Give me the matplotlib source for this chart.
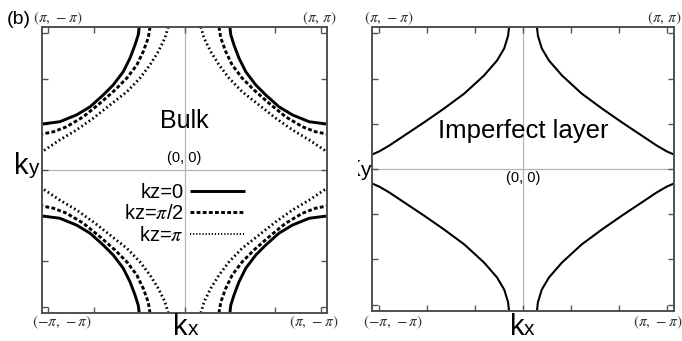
import numpy as np
import matplotlib
matplotlib.use("Agg")
import matplotlib.pyplot as plt
from matplotlib.patches import Rectangle

plt.rcParams['font.family'] = ['Liberation Sans', 'DejaVu Sans']
plt.rcParams['mathtext.fontset'] = 'stix'

PI = np.pi

# Bulk Fermi contours, upper-left quadrant (kx < 0, ky > 0); the other
# quadrants follow from the mirror symmetry of the zone.
bulk_kz0_kx = [-1.00, -1.02, -1.09, -1.20, -1.35, -1.57, -1.79, -2.08, -2.38, -2.75, -PI]
bulk_kz0_ky = [PI, 2.97, 2.75, 2.46, 2.16, 1.87, 1.65, 1.39, 1.21, 1.06, 1.01]

bulk_kzhalf_kx = [-0.76, -0.80, -0.91, -1.05, -1.27, -1.53, -1.86, -2.23, -2.60, -2.89, -PI]
bulk_kzhalf_ky = [PI, 2.90, 2.60, 2.31, 2.02, 1.76, 1.47, 1.17, 0.95, 0.84, 0.79]

bulk_kzpi_kx = [-0.36, -0.43, -0.58, -0.76, -0.98, -1.27, -1.64, -2.01, -2.38, -2.75, -PI]
bulk_kzpi_ky = [PI, 2.90, 2.60, 2.31, 2.02, 1.72, 1.43, 1.14, 0.88, 0.66, 0.40]

# Imperfect-layer contour, upper-left quadrant
layer_kx = [-0.29, -0.31, -0.39, -0.54, -0.81, -1.22, -1.64, -2.06, -2.47, -2.78, -2.99, -PI]
layer_ky = [PI, 2.95, 2.67, 2.40, 2.07, 1.67, 1.34, 1.03, 0.74, 0.52, 0.39, 0.32]

ticks = [-3, -2, -1, 0, 1, 2, 3]
quadrants = [(1, 1), (-1, 1), (1, -1), (-1, -1)]

W, H = 682, 341
fig = plt.figure(figsize=(W / 100, H / 100), dpi=100)


def px_axes(x0, y0, x1, y1):
    return fig.add_axes([x0 / W, 1 - y1 / H, (x1 - x0) / W, (y1 - y0) / H])


def style_axes(ax):
    ax.set_xlim(-PI, PI)
    ax.set_ylim(-PI, PI)
    ax.set_xticks(ticks)
    ax.set_yticks(ticks)
    ax.set_xticklabels([])
    ax.set_yticklabels([])
    ax.tick_params(direction='in', length=4, width=1.0, color='#555555',
                   top=True, right=True)
    for s in ax.spines.values():
        s.set_color('#505050')
        s.set_linewidth(1.4)
    ax.axhline(0, color='#b5b5b5', lw=0.9, zorder=0)
    ax.axvline(0, color='#b5b5b5', lw=0.9, zorder=0)


def draw_sym(ax, kx, ky, label=None, **kw):
    kx = np.asarray(kx)
    ky = np.asarray(ky)
    for i, (sx, sy) in enumerate(quadrants):
        ax.plot(-sx * kx, sy * ky, label=label if i == 0 else None, **kw)


def ftext(x, y, s, **kw):
    return fig.text(x / W, 1 - y / H, s, **kw)


# ---------------- Bulk panel ----------------
ax1 = px_axes(42, 27, 327, 313)
style_axes(ax1)
draw_sym(ax1, bulk_kz0_kx, bulk_kz0_ky, label='kz=0',
         color='black', lw=2.1, solid_capstyle='butt')
draw_sym(ax1, bulk_kzhalf_kx, bulk_kzhalf_ky, label=r'kz=$\pi$/2',
         color='black', lw=2.1, linestyle=(0, (1.3, 0.8)))
draw_sym(ax1, bulk_kzpi_kx, bulk_kzpi_ky, label=r'kz=$\pi$',
         color='black', lw=2.0, linestyle=(0, (0.6, 1.0)))

leg = ax1.legend(loc='upper right', bbox_to_anchor=(245 / W, 1 - 183 / H),
                 bbox_transform=fig.transFigure, frameon=False,
                 markerfirst=False, fontsize=14.5, handlelength=2.75,
                 handletextpad=0.3, labelspacing=0.12, borderpad=0,
                 borderaxespad=0)
# finer dotted sample in the key
leg.get_lines()[2].set_linewidth(1.4)

ax1.text(0, 1.07, 'Bulk', ha='center', va='center', fontsize=18)
ax1.text(0, 0.27, '(0, 0)', ha='center', va='center', fontsize=10.5)

# ---------------- Imperfect layer panel ----------------
ax2 = px_axes(372, 27, 674, 311)
style_axes(ax2)
draw_sym(ax2, layer_kx, layer_ky, color='black', lw=1.5)
ax2.text(0, 0.83, 'Imperfect layer', ha='center', va='center', fontsize=18.5)
ax2.text(0, -0.21, '(0, 0)', ha='center', va='center', fontsize=10.5)

# ---------------- Panel tag and corner labels ----------------
ftext(19, 20, '(b)', ha='center', va='center', fontsize=14)

corner = dict(ha='center', va='center', fontsize=11, color='#333333')
ftext(58, 18, r'$(\pi,\,-\pi)$', **corner)
ftext(319, 18, r'$(\pi,\,\pi)$', **corner)
ftext(62, 322, r'$(-\pi,\,-\pi)$', **corner)
ftext(314, 322, r'$(\pi,\,-\pi)$', **corner)
ftext(389, 18, r'$(\pi,\,-\pi)$', **corner)
ftext(664, 18, r'$(\pi,\,\pi)$', **corner)
ftext(393, 322, r'$(-\pi,\,-\pi)$', **corner)
ftext(658, 322, r'$(\pi,\,-\pi)$', **corner)

# Axis labels built from a large "k" and a smaller component letter
ftext(188, 335, 'k', ha='right', va='baseline', fontsize=21)
ftext(188, 335, 'x', ha='left', va='baseline', fontsize=15)
ftext(524, 335, 'k', ha='right', va='baseline', fontsize=21)
ftext(524, 335, 'x', ha='left', va='baseline', fontsize=15)
ftext(28, 174, 'k', ha='right', va='baseline', fontsize=21)
ftext(28, 174, 'y', ha='left', va='baseline', fontsize=15)

# The right panel's ky label is partly hidden behind the left panel
clip = Rectangle((358 / W, 0), 1, 1, transform=fig.transFigure)
for t in (ftext(360, 176, 'k', ha='right', va='baseline', fontsize=21),
          ftext(360, 176, 'y', ha='left', va='baseline', fontsize=15)):
    t.set_clip_path(clip)

fig.savefig('out.png', dpi=100)
